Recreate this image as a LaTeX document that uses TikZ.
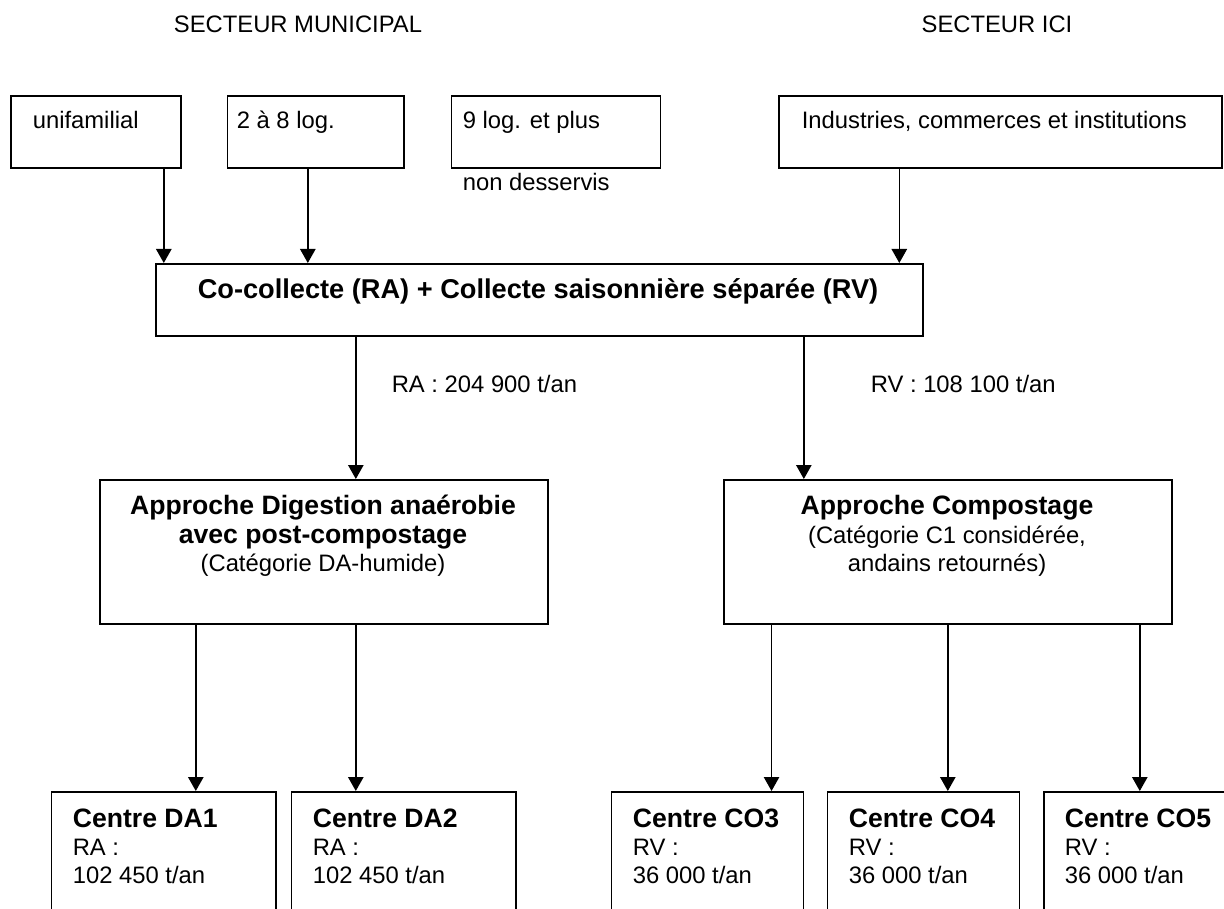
\documentclass[tikz,border=0pt]{standalone}
\usepackage{fontspec}
\setmainfont{Liberation Sans}
\usetikzlibrary{arrows.meta}
\newlength\pu
\setlength\pu{0.75pt}
\newcommand\rg{\fontsize{17.85pt}{21pt}\selectfont}
\newcommand\bd{\fontsize{19.95pt}{23pt}\selectfont\bfseries}

\begin{document}
\begin{tikzpicture}[x=0.75pt,y=-0.75pt,line width=1.2pt]
    \tikzstyle{bx}=[draw, rectangle, inner sep=0pt, anchor=north west]
    \tikzstyle{txt}=[inner sep=0pt, anchor=base west, font=\rg]
    \tikzstyle{ctr}=[inner sep=0pt, anchor=base, font=\rg]
    \tikzstyle{hd}=[inner sep=0pt, anchor=base west, font=\bd]
    \tikzstyle{flow}=[-{Triangle[length=10.5pt,width=11.5pt]}]

    \fill[white] (0,0) rectangle (1224,909);
    \useasboundingbox (0,0) rectangle (1224,909);
    \clip (0,0) rectangle (1224,909);

    % secteurs
    \node[ctr] (mun) at (298,33) {SECTEUR MUNICIPAL};
    \node[ctr] (ici) at (997,33) {SECTEUR ICI};

    % generateurs
    \node[bx, minimum width=170\pu, minimum height=72\pu]   (uni)  at (10,95)    {};
    \node[bx, minimum width=176.5\pu, minimum height=72\pu] (deux) at (226.5,95) {};
    \node[bx, minimum width=209\pu, minimum height=72\pu]   (neuf) at (450.5,95) {};
    \node[bx, minimum width=443\pu, minimum height=72\pu]   (icb)  at (778,95)   {};
    \node[txt] (uni-t)  at (32,129)  {unifamilial};
    \node[txt] (deux-t) at (236,129) {2 à 8 log.};
    \node[txt] (neuf-t) at (462,129) {9 log. et plus};
    \node[txt] (icb-t)  at (801,129) {Industries, commerces et institutions};
    \node[txt] (nd)     at (462,191) {non desservis};

    % collecte
    \node[bx, minimum width=767\pu, minimum height=72\pu] (coll) at (155,263) {};
    \node[ctr, font=\bd\fontsize{20.4pt}{23pt}\selectfont] (coll-t) at (538,299)
      {Co-collecte (RA) + Collecte saisonnière séparée (RV)};
    \node[txt] (ra) at (391,392) {RA : 204 900 t/an};
    \node[txt] (rv) at (870,392) {RV : 108 100 t/an};

    % approches
    \node[bx, minimum width=448\pu, minimum height=144\pu] (da) at (99,479)  {};
    \node[bx, minimum width=448\pu, minimum height=144\pu] (co) at (723,479) {};
    \node[ctr, font=\bd] (da-t1) at (323,514) {Approche Digestion anaérobie};
    \node[ctr, font=\bd] (da-t2) at (323,543) {avec post-compostage};
    \node[ctr]           (da-t3) at (323,571) {(Catégorie DA-humide)};
    \node[ctr, font=\bd] (co-t1) at (947,514) {Approche Compostage};
    \node[ctr]           (co-t2) at (947,543) {(Catégorie C1 considérée,};
    \node[ctr]           (co-t3) at (947,571) {andains retournés)};

    % centres
    \node[bx, minimum width=224.3\pu, minimum height=140\pu] (da1) at (50.7,791)  {};
    \node[bx, minimum width=224.4\pu, minimum height=140\pu] (da2) at (290.6,791) {};
    \node[bx, minimum width=192\pu, minimum height=140\pu]   (co3) at (610.7,791) {};
    \node[bx, minimum width=191.8\pu, minimum height=140\pu] (co4) at (826.8,791) {};
    \node[bx, minimum width=200\pu, minimum height=140\pu]   (co5) at (1043,791)  {};
    \node[hd]  (da1-t) at (72,827)  {Centre DA1};
    \node[txt] (da1-a) at (72,855)  {RA :};
    \node[txt] (da1-b) at (72,883)  {102 450 t/an};
    \node[hd]  (da2-t) at (312,827) {Centre DA2};
    \node[txt] (da2-a) at (312,855) {RA :};
    \node[txt] (da2-b) at (312,883) {102 450 t/an};
    \node[hd]  (co3-t) at (632,827) {Centre CO3};
    \node[txt] (co3-a) at (632,855) {RV :};
    \node[txt] (co3-b) at (632,883) {36 000 t/an};
    \node[hd]  (co4-t) at (848,827) {Centre CO4};
    \node[txt] (co4-a) at (848,855) {RV :};
    \node[txt] (co4-b) at (848,883) {36 000 t/an};
    \node[hd]  (co5-t) at (1064,827) {Centre CO5};
    \node[txt] (co5-a) at (1064,855) {RV :};
    \node[txt] (co5-b) at (1064,883) {36 000 t/an};

    % fleches
    \draw[flow] ([xshift=51pt]uni.south)      coordinate (a) -- (a |- coll.north);
    \draw[flow] ([xshift=-5.8pt]deux.south)   coordinate (a) -- (a |- coll.north);
    \draw[flow] ([xshift=-75.75pt]icb.south)  coordinate (a) -- (a |- coll.north);
    \draw[flow] ([xshift=-137.6pt]coll.south) coordinate (a) -- (a |- da.north);
    \draw[flow] ([xshift=198.4pt]coll.south)  coordinate (a) -- (a |- co.north);
    \draw[flow] ([xshift=-96pt]da.south)      coordinate (a) -- (a |- da1.north);
    \draw[flow] ([xshift=24pt]da.south)       coordinate (a) -- (a |- da2.north);
    \draw[flow] ([xshift=-132.2pt]co.south)   coordinate (a) -- (a |- co3.north);
    \draw[flow] ([xshift=0pt]co.south)        coordinate (a) -- (a |- co4.north);
    \draw[flow] ([xshift=144pt]co.south)      coordinate (a) -- (a |- co5.north);
\end{tikzpicture}
\end{document}
